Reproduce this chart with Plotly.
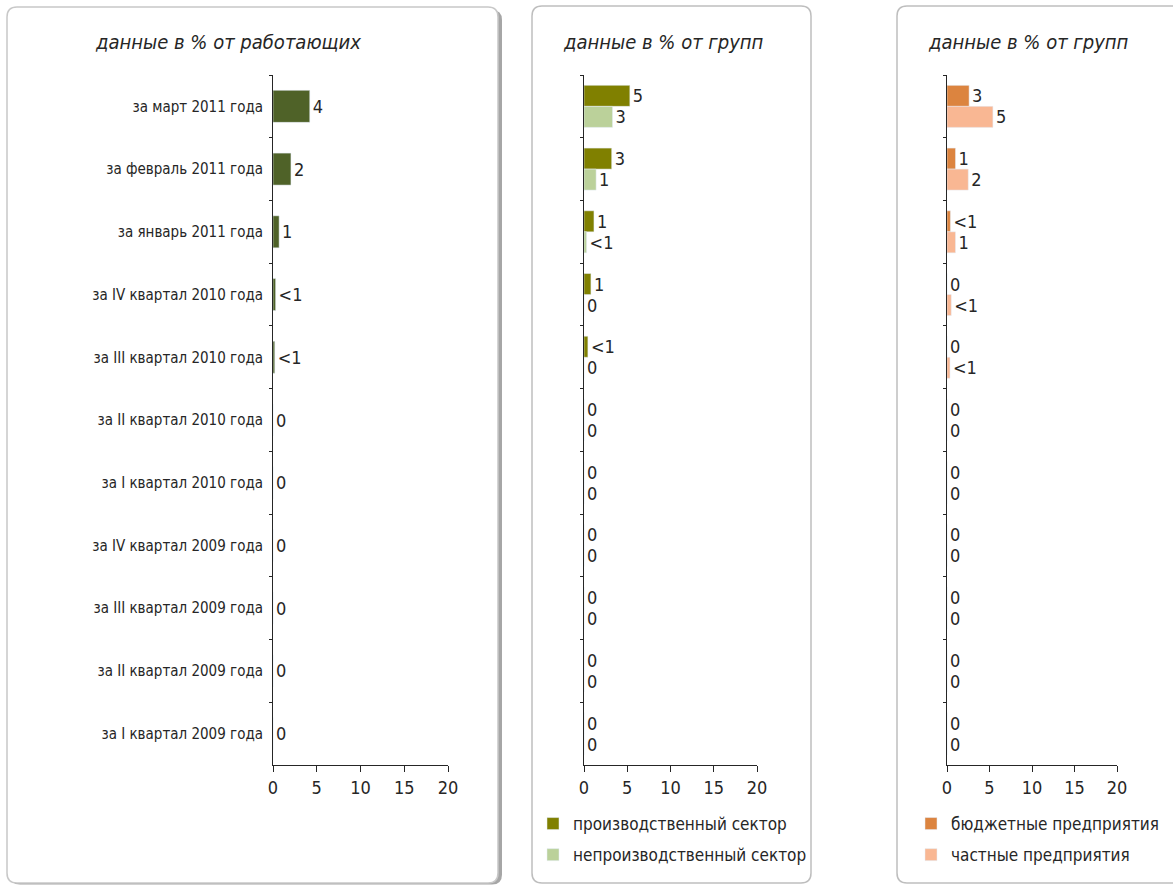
import plotly.graph_objects as go

W, H = 1173, 885

# categories (top to bottom)
periods = ["за март 2011 года", "за февраль 2011 года", "за январь 2011 года",
           "за IV квартал 2010 года", "за III квартал 2010 года", "за II квартал 2010 года",
           "за I квартал 2010 года", "за IV квартал 2009 года", "за III квартал 2009 года",
           "за II квартал 2009 года", "за I квартал 2009 года"]

# panel 1: % of working
workers = [4.2, 2.05, 0.7, 0.3, 0.2, 0, 0, 0, 0, 0, 0]
workers_txt = ["4", "2", "1", "<1", "<1", "0", "0", "0", "0", "0", "0"]

# panel 2: sectors
prod = [5.3, 3.2, 1.15, 0.8, 0.45, 0, 0, 0, 0, 0, 0]
prod_txt = ["5", "3", "1", "1", "<1", "0", "0", "0", "0", "0", "0"]
nonprod = [3.3, 1.4, 0.3, 0, 0, 0, 0, 0, 0, 0, 0]
nonprod_txt = ["3", "1", "<1", "0", "0", "0", "0", "0", "0", "0", "0"]

# panel 3: ownership
budget = [2.6, 1.0, 0.4, 0, 0, 0, 0, 0, 0, 0, 0]
budget_txt = ["3", "1", "<1", "0", "0", "0", "0", "0", "0", "0", "0"]
private = [5.4, 2.5, 1.0, 0.5, 0.35, 0, 0, 0, 0, 0, 0]
private_txt = ["5", "2", "1", "<1", "<1", "0", "0", "0", "0", "0", "0"]

x_ticks = [0, 5, 10, 15, 20]

FONT = "Liberation Sans Narrow, DejaVu Sans Condensed, sans-serif"
TXT = "#262626"


def px(x):
    return x / W


def py(y):
    return 1 - y / H


fig = go.Figure()

lbl = dict(size=18, color=TXT, family=FONT)
fig.add_trace(go.Bar(y=periods, x=workers, orientation="h", text=workers_txt,
                     textposition="outside", textfont=lbl, cliponaxis=False,
                     marker_color="#4F6228", width=0.51, showlegend=False,
                     xaxis="x", yaxis="y"))
fig.add_trace(go.Bar(y=periods, x=prod, orientation="h", text=prod_txt,
                     textposition="outside", textfont=lbl, cliponaxis=False,
                     marker_color="#808000", name="производственный сектор",
                     legendgroup="p1", xaxis="x2", yaxis="y2", legend="legend2"))
fig.add_trace(go.Bar(y=periods, x=nonprod, orientation="h", text=nonprod_txt,
                     textposition="outside", textfont=lbl, cliponaxis=False,
                     marker_color="#BBD19A", name="непроизводственный сектор",
                     legendgroup="p2", xaxis="x2", yaxis="y2", legend="legend2"))
fig.add_trace(go.Bar(y=periods, x=budget, orientation="h", text=budget_txt,
                     textposition="outside", textfont=lbl, cliponaxis=False,
                     marker_color="#DC843F", name="бюджетные предприятия",
                     legendgroup="o1", xaxis="x3", yaxis="y3", legend="legend3"))
fig.add_trace(go.Bar(y=periods, x=private, orientation="h", text=private_txt,
                     textposition="outside", textfont=lbl, cliponaxis=False,
                     marker_color="#F9B793", name="частные предприятия",
                     legendgroup="o2", xaxis="x3", yaxis="y3", legend="legend3"))

xa = dict(range=[0, 20], tickvals=x_ticks, showline=True, linecolor="#262626", linewidth=1,
          ticks="outside", ticklen=6, tickcolor="#262626", showgrid=False, zeroline=False,
          tickfont=dict(size=18, color=TXT, family=FONT), fixedrange=True)
ya = dict(categoryorder="array", categoryarray=periods, autorange="reversed",
          showline=True, linecolor="#262626", linewidth=1, ticks="outside", ticklen=3,
          tickson="boundaries", tickcolor="#262626", showgrid=False, zeroline=False,
          tickfont=dict(size=15, color=TXT, family=FONT), ticklabelstandoff=6)

leg = dict(xanchor="left", yanchor="top", font=dict(size=17, color=TXT, family=FONT),
           traceorder="grouped", tracegroupgap=6, bgcolor="rgba(0,0,0,0)", itemwidth=30)

ydom = [py(765), py(75)]
fig.update_layout(
    width=W, height=H, margin=dict(l=0, r=0, t=0, b=0, autoexpand=False),
    paper_bgcolor="white", plot_bgcolor="rgba(0,0,0,0)",
    barmode="group", bargap=0.33, bargroupgap=0,
    xaxis=dict(xa, domain=[px(273), px(448)], anchor="y"),
    yaxis=dict(ya, domain=ydom, anchor="x"),
    xaxis2=dict(xa, domain=[px(584), px(757)], anchor="y2"),
    yaxis2=dict(ya, domain=ydom, anchor="x2", showticklabels=False),
    xaxis3=dict(xa, domain=[px(947), px(1117)], anchor="y3"),
    yaxis3=dict(ya, domain=ydom, anchor="x3", showticklabels=False),
    legend2=dict(leg, x=px(533), y=py(806)),
    legend3=dict(leg, x=px(911), y=py(806)),
)


def rrect(x0, y0, x1, y1, r=10, open_right=False):
    # rounded rectangle path in paper coords
    X0, X1 = px(x0), px(x1)
    Y0, Y1 = py(y0), py(y1)
    rx, ry = r / W, r / H
    if open_right:
        return (f"M{X1},{Y0} L{X0 + rx},{Y0} Q{X0},{Y0} {X0},{Y0 - ry} "
                f"L{X0},{Y1 + ry} Q{X0},{Y1} {X0 + rx},{Y1} L{X1},{Y1}")
    return (f"M{X0 + rx},{Y0} L{X1 - rx},{Y0} Q{X1},{Y0} {X1},{Y0 - ry} "
            f"L{X1},{Y1 + ry} Q{X1},{Y1} {X1 - rx},{Y1} L{X0 + rx},{Y1} "
            f"Q{X0},{Y1} {X0},{Y1 + ry} L{X0},{Y0 - ry} Q{X0},{Y0} {X0 + rx},{Y0} Z")


shapes = [
    dict(type="path", xref="paper", yref="paper", path=rrect(10, 10, 502, 884.5),
         fillcolor="#A6A6A6", line=dict(width=0), layer="below"),
    dict(type="path", xref="paper", yref="paper", path=rrect(7, 7, 498, 883),
         fillcolor="white", line=dict(color="#C8C8C8", width=1.5), layer="below"),
    dict(type="path", xref="paper", yref="paper", path=rrect(532, 6, 811, 883),
         fillcolor="white", line=dict(color="#BEBEBE", width=1.5), layer="below"),
    dict(type="path", xref="paper", yref="paper", path=rrect(897, 6, 1173, 883, open_right=True),
         line=dict(color="#BEBEBE", width=1.5), layer="below"),
]
fig.update_layout(shapes=shapes)

title_font = dict(size=20, color=TXT, family=FONT, style="italic")
for xc, t in [(228, "данные в % от работающих"), (663, "данные в % от групп"),
              (1028, "данные в % от групп")]:
    fig.add_annotation(x=px(xc), y=py(42), xref="paper", yref="paper", text=t,
                       showarrow=False, font=title_font, xanchor="center", yanchor="middle")

# page has a default body margin and scrollbars; drop them so the figure fills the window
fig.write_html("out.html", config={"displayModeBar": False},
               post_script="document.body.style.margin='0';"
                           "document.body.style.overflow='hidden';"
                           "document.documentElement.style.overflow='hidden';")
